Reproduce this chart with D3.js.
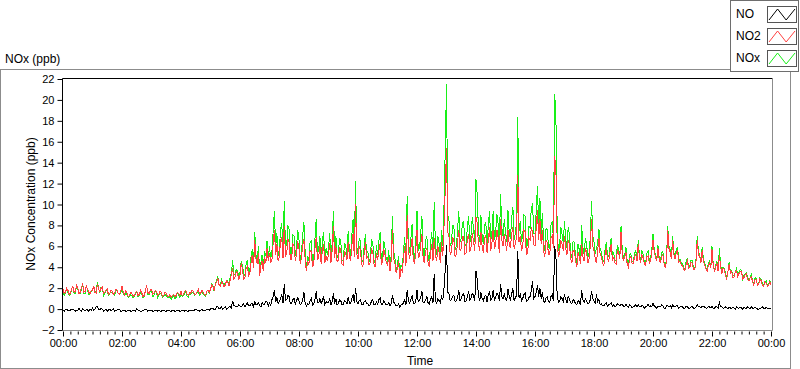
<!DOCTYPE html>
<html><head><meta charset="utf-8">
<script src="https://cdn.jsdelivr.net/npm/d3@7"></script>
<style>
body{margin:0;background:#fff}
svg{display:block}
text{font-family:"Liberation Sans",Arial,sans-serif;fill:#000}
</style>
</head><body>
<svg id="chart" width="800" height="369"></svg>
<script>
// ---- data (2.5-minute samples, 00:00 .. 24:00), one row per hour ----
const seriesNames = ["NO", "NO2", "NOx"];
const seriesColors = ["#000000", "#ff4040", "#18f018"];
const sampleMinutes = 2.5;

const no2 = [
 1.9,1.5,1.6,2.0,1.8,1.4,1.5,1.9,2.2,1.6,1.7,2.3,2.0,1.5,1.6,2.1,2.4,1.6,1.7,2.2,1.9,1.6,1.5,1.8,
 1.8,2.2,1.6,1.5,2.4,1.9,1.7,2.0,2.1,1.5,1.6,1.8,1.9,1.4,1.5,1.8,1.7,1.4,1.5,1.9,1.8,1.5,1.4,1.7,
 2.2,1.6,1.4,1.7,1.6,1.2,1.3,1.6,1.5,1.2,1.3,1.6,1.7,1.3,1.4,1.8,1.6,1.2,1.3,1.7,2.3,1.6,1.5,1.8,
 1.9,1.4,1.5,1.8,1.7,1.3,1.4,1.7,1.6,1.2,1.3,1.6,1.5,1.2,1.2,1.4,1.1,1.3,1.4,1.2,1.3,1.6,1.5,1.3,
 1.7,1.3,1.4,1.7,1.8,1.4,1.3,1.6,1.5,1.8,1.7,1.4,1.4,1.6,1.9,1.5,1.5,1.8,1.6,1.4,1.3,1.7,1.8,1.6,
 1.9,2.3,2.1,1.8,2.4,2.6,2.9,2.3,2.2,2.6,2.5,2.1,2.3,2.7,2.6,2.2,2.8,3.3,3.9,2.9,3.1,3.6,3.4,2.8,
 3.2,4.4,3.8,2.9,3.0,3.9,4.1,3.2,3.4,4.5,5.2,3.9,6.6,4.8,4.3,5.4,3.2,4.2,4.6,3.6,5.0,4.4,5.8,4.6,
 5.4,4.4,4.7,6.3,7.6,5.2,6.2,4.6,5.0,6.6,6.8,4.9,7.9,5.1,5.3,6.7,6.4,4.7,4.8,6.2,6.0,4.6,5.2,6.5,
 5.8,4.3,4.9,6.1,6.7,4.8,3.6,4.6,4.2,5.6,5.5,4.0,4.4,5.8,6.9,4.7,5.0,6.0,4.3,5.6,6.2,4.4,5.1,4.6,
 5.2,6.3,4.4,5.6,7.9,4.9,6.0,4.5,4.7,5.9,5.6,4.3,4.2,5.5,5.3,4.7,6.4,5.0,4.6,6.1,7.2,5.0,10.0,5.3,
 4.8,6.0,5.6,4.3,4.1,5.3,6.4,4.9,5.0,4.2,4.5,5.8,5.5,4.3,4.0,5.4,4.7,5.6,6.3,4.2,4.6,5.7,5.2,4.4,
 4.2,5.0,3.6,4.6,7.6,4.8,4.4,3.5,3.8,4.6,2.9,3.8,3.6,4.9,6.0,4.1,9.0,5.6,4.8,5.8,6.8,4.7,4.3,5.6,
 7.6,4.9,5.0,6.1,7.2,4.8,4.4,5.6,5.8,4.5,4.0,5.3,6.2,4.6,6.8,5.2,4.6,6.0,5.4,4.4,6.4,5.1,8.0,11.6,
 15.4,7.4,7.0,5.2,5.5,6.8,6.6,5.0,5.2,6.4,7.6,5.6,5.8,6.9,6.9,5.3,5.4,6.7,7.2,5.5,6.0,7.3,6.4,5.6,
 8.8,8.2,6.2,5.6,7.4,6.0,5.4,6.8,7.0,5.4,6.6,7.8,5.6,6.4,7.6,5.8,6.2,7.6,6.8,5.4,8.6,6.6,6.0,7.2,
 6.4,5.6,7.6,6.2,5.8,7.2,7.8,5.8,6.2,7.0,12.8,6.4,7.0,5.6,6.0,7.6,7.4,5.2,5.4,6.8,6.6,7.8,7.4,6.2,
 6.0,7.8,9.5,6.6,8.6,6.2,7.6,5.6,5.0,6.6,6.4,5.2,5.2,6.8,7.0,5.8,14.6,13.5,6.6,5.0,5.4,6.6,6.2,5.6,
 7.0,5.8,5.2,6.6,6.2,4.8,4.4,5.6,5.6,4.6,4.0,5.4,5.0,4.3,6.2,5.0,4.6,5.8,5.4,4.4,4.8,6.0,8.6,6.0,
 5.6,4.8,4.4,5.6,6.8,5.2,5.0,4.4,4.2,5.2,5.8,4.8,4.6,5.4,6.2,4.6,5.0,4.4,4.3,5.6,5.4,4.8,7.4,5.2,
 4.6,5.0,5.4,4.3,4.0,4.8,5.0,4.4,4.4,5.0,5.2,4.6,6.2,4.8,4.5,5.2,4.9,4.3,4.2,5.0,5.1,4.4,4.6,5.4,
 6.6,5.4,5.0,4.6,5.8,4.8,4.4,5.0,5.2,4.4,3.9,4.6,7.6,5.8,5.4,4.8,6.6,5.2,4.8,5.4,5.6,4.5,4.6,4.2,
 4.2,3.8,3.7,4.3,4.6,3.9,4.0,4.5,4.4,3.8,3.8,4.6,6.6,5.2,5.0,4.4,5.6,4.6,4.2,3.9,3.6,4.2,4.4,3.9,
 5.7,4.2,3.6,4.0,4.4,3.6,5.2,4.0,3.4,3.9,3.8,3.2,2.9,3.6,4.3,3.4,3.6,3.0,3.1,3.6,3.7,3.1,3.4,3.6,
 3.6,2.9,3.0,3.3,3.4,2.8,2.7,3.0,3.1,2.6,2.3,2.8,2.8,2.3,2.4,2.9,2.7,2.3,2.2,2.6,2.5,2.2,2.3,2.6,
 2.3
];

const no = [
 -0.1,-0.2,0.0,0.0,-0.2,-0.1,-0.1,0.0,0.0,-0.1,-0.2,-0.1,-0.1,0.1,-0.1,-0.2,0.0,-0.1,-0.2,0.0,-0.1,-0.2,0.0,-0.1,
 0.1,-0.1,0.0,0.2,0.2,0.0,-0.1,0.1,0.0,-0.2,-0.1,0.0,-0.2,-0.1,0.0,-0.2,-0.1,0.0,-0.2,-0.1,-0.1,0.0,0.0,-0.2,
 -0.2,-0.1,-0.1,-0.2,-0.2,-0.1,-0.1,-0.2,-0.2,-0.1,-0.1,-0.2,0.0,-0.1,-0.1,-0.2,-0.2,-0.1,-0.1,0.0,0.0,-0.2,-0.1,-0.1,
 -0.1,-0.2,-0.2,-0.1,-0.1,-0.2,-0.1,-0.2,-0.2,-0.1,-0.1,-0.2,-0.2,-0.1,-0.1,-0.2,-0.2,-0.1,-0.1,-0.2,-0.2,-0.1,-0.1,-0.2,
 -0.2,-0.1,-0.1,-0.2,-0.1,-0.2,-0.2,-0.1,-0.1,-0.2,-0.1,-0.1,0.0,-0.1,-0.1,-0.2,-0.1,0.0,-0.2,-0.1,-0.1,0.0,0.0,-0.1,
 0.0,0.1,0.1,-0.1,0.0,0.2,0.2,0.0,0.1,0.2,0.0,0.1,0.2,0.0,0.1,0.2,0.3,0.1,0.8,0.3,0.3,0.2,0.2,0.4,
 0.3,0.2,0.4,0.5,0.2,0.4,0.6,0.3,0.3,0.5,0.5,0.2,0.8,0.4,0.4,0.6,0.3,0.2,0.6,0.4,0.5,0.7,0.7,0.3,
 0.6,0.4,0.9,1.2,1.8,0.7,1.1,0.5,0.7,1.0,1.4,0.6,2.4,0.8,0.9,1.3,1.2,0.5,0.6,0.9,1.0,0.5,0.8,1.1,
 0.8,0.4,0.5,0.9,1.6,0.6,0.3,0.5,0.4,0.8,1.0,0.4,0.5,0.9,1.7,0.6,0.6,1.0,0.5,0.8,1.2,0.4,0.7,0.6,
 0.6,1.0,0.4,0.7,1.5,0.5,1.0,0.4,0.5,0.9,0.8,0.4,0.4,0.8,0.7,0.5,1.1,0.6,0.5,1.0,1.4,0.6,2.0,0.7,
 0.5,0.8,0.9,0.4,0.4,0.7,0.8,0.5,0.5,0.3,0.4,0.8,0.9,0.4,0.4,0.7,0.5,0.9,1.1,0.4,0.5,0.8,0.6,0.4,
 0.4,0.6,0.3,0.5,1.3,0.7,0.5,0.3,0.3,0.5,0.2,0.4,0.4,0.6,0.9,0.4,1.8,0.8,0.6,0.9,1.3,0.6,0.5,0.8,
 1.8,0.7,0.8,1.1,1.7,0.6,0.6,0.9,1.2,0.6,0.5,0.9,1.2,0.6,3.4,0.8,0.6,1.0,0.8,0.6,1.2,0.9,2.0,3.8,
 6.1,1.6,1.5,0.8,0.9,1.2,1.3,0.7,0.8,1.1,1.8,0.8,1.0,1.4,1.5,0.7,0.8,1.2,1.7,0.8,1.1,1.5,1.3,0.8,
 3.6,2.8,1.3,0.8,1.6,1.0,0.8,1.2,1.3,0.7,1.4,1.6,0.9,1.0,1.8,0.8,1.1,1.5,1.3,0.8,2.4,1.2,1.0,1.4,
 1.0,0.8,1.9,1.2,0.9,1.4,2.0,0.8,1.1,1.3,5.6,1.1,1.4,0.8,1.0,1.4,1.5,0.7,0.8,1.1,1.2,1.8,2.7,1.0,
 1.2,1.6,2.3,1.2,2.0,1.0,1.6,0.8,0.6,1.1,1.2,0.7,0.6,1.2,1.4,0.8,6.0,5.1,1.4,0.6,0.7,1.2,1.0,0.7,
 1.4,0.9,0.6,1.2,1.0,0.6,0.5,0.9,0.8,0.5,0.4,0.8,0.7,0.4,1.8,0.9,0.6,1.0,0.8,0.5,0.6,0.9,1.7,1.0,
 0.8,0.5,1.4,0.7,0.9,0.4,0.5,0.3,0.3,0.5,0.6,0.3,0.4,0.5,0.6,0.3,0.4,0.2,0.3,0.5,0.4,0.3,0.5,0.4,
 0.3,0.2,0.5,0.3,0.2,0.4,0.3,0.1,0.2,0.3,0.4,0.2,0.4,0.2,0.2,0.4,0.3,0.1,0.2,0.3,0.5,0.2,0.3,0.2,
 0.6,0.3,0.2,0.1,0.3,0.2,0.2,0.4,0.3,0.1,0.1,0.3,0.3,0.2,0.3,0.1,0.4,0.2,0.2,0.3,0.3,0.1,0.2,0.2,
 0.2,0.1,0.1,0.3,0.2,0.1,0.1,0.2,0.2,0.1,0.1,0.2,0.4,0.2,0.2,0.1,0.3,0.2,0.2,0.1,0.1,0.2,0.2,0.1,
 0.3,0.1,0.1,0.2,0.2,0.1,0.6,0.2,0.2,0.1,0.1,0.2,0.1,0.0,0.2,0.1,0.1,0.2,0.1,0.0,0.2,0.1,0.1,0.2,
 0.1,0.0,0.2,0.1,0.1,0.2,0.1,0.0,0.2,0.1,0.1,0.2,0.1,0.0,0.0,0.1,0.1,0.2,0.1,0.0,0.2,0.1,0.1,0.1,
 0.1
];

const nox = [
 1.8,1.3,1.6,2.0,1.6,1.3,1.4,1.9,2.2,1.5,1.5,2.2,1.9,1.6,1.5,1.9,2.4,1.5,1.5,2.2,1.8,1.4,1.5,1.7,
 1.9,2.1,1.6,1.7,2.6,1.9,1.6,2.1,2.1,1.3,1.5,1.8,1.7,1.3,1.5,1.6,1.6,1.4,1.3,1.8,1.7,1.5,1.4,1.5,
 2.0,1.5,1.3,1.5,1.4,1.1,1.2,1.4,1.3,1.1,1.2,1.4,1.7,1.2,1.3,1.6,1.4,1.1,1.2,1.7,2.3,1.4,1.4,1.7,
 1.8,1.2,1.3,1.7,1.6,1.1,1.3,1.5,1.4,1.1,1.2,1.4,1.3,1.1,1.1,1.2,0.9,1.2,1.3,1.0,1.1,1.5,1.4,1.1,
 1.5,1.2,1.3,1.5,1.7,1.2,1.1,1.5,1.4,1.6,1.6,1.3,1.4,1.5,1.8,1.3,1.4,1.8,1.4,1.3,1.2,1.7,1.8,1.5,
 1.9,2.4,2.2,1.7,2.4,2.8,3.1,2.3,2.3,2.8,2.5,2.2,2.5,2.7,2.7,2.4,3.1,3.4,4.7,3.2,3.4,3.8,3.6,3.2,
 3.5,4.6,4.2,3.4,3.2,4.3,4.7,3.5,3.7,5.0,5.7,4.1,7.4,5.2,4.7,6.0,3.5,4.4,5.2,4.0,5.5,5.1,6.5,4.9,
 6.0,4.8,5.6,7.5,9.4,5.9,7.3,5.1,5.7,7.6,8.2,5.5,10.3,5.9,6.2,8.0,7.6,5.2,5.4,7.1,7.0,5.1,6.0,7.6,
 6.6,4.7,5.4,7.0,8.3,5.4,3.9,5.1,4.6,6.4,6.5,4.4,4.9,6.7,8.6,5.3,5.6,7.0,4.8,6.4,7.4,4.8,5.8,5.2,
 5.8,7.3,4.8,6.3,9.4,5.4,7.0,4.9,5.2,6.8,6.4,4.7,4.6,6.3,6.0,5.2,7.5,5.6,5.1,7.1,8.6,5.6,12.2,6.0,
 5.3,6.8,6.5,4.7,4.5,6.0,7.2,5.4,5.5,4.5,4.9,6.6,6.4,4.7,4.4,6.1,5.2,6.5,7.4,4.6,5.1,6.5,5.8,4.8,
 4.6,5.6,3.9,5.1,8.9,5.5,4.9,3.8,4.1,5.1,3.1,4.2,4.0,5.5,6.9,4.5,10.8,6.4,5.4,6.7,8.1,5.3,4.8,6.4,
 9.4,5.6,5.8,7.2,8.9,5.4,5.0,6.5,7.0,5.1,4.5,6.2,7.4,5.2,10.2,6.0,5.2,7.0,6.2,5.0,7.6,6.0,10.0,15.4,
 21.5,9.0,8.5,6.0,6.4,8.0,7.9,5.7,6.0,7.5,9.4,6.4,6.8,8.3,8.4,6.0,6.2,7.9,8.9,6.3,7.1,8.8,7.7,6.4,
 12.4,11.0,7.5,6.4,9.0,7.0,6.2,8.0,8.3,6.1,8.0,9.4,6.5,7.4,9.4,6.6,7.3,9.1,8.1,6.2,11.0,7.8,7.0,8.6,
 7.4,6.4,9.5,7.4,6.7,8.6,9.8,6.6,7.3,8.3,18.4,7.5,8.4,6.4,7.0,9.0,8.9,5.9,6.2,7.9,7.8,9.6,10.1,7.2,
 7.2,9.4,11.8,7.8,10.6,7.2,9.2,6.4,5.6,7.7,7.6,5.9,5.8,8.0,8.4,6.6,20.6,18.6,8.0,5.6,6.1,7.8,7.2,6.3,
 8.4,6.7,5.8,7.8,7.2,5.4,4.9,6.5,6.4,5.1,4.4,6.2,5.7,4.7,8.0,5.9,5.2,6.8,6.2,4.9,5.4,6.9,10.3,7.0,
 6.4,5.3,5.8,6.3,7.7,5.6,5.5,4.7,4.5,5.7,6.4,5.1,5.0,5.9,6.8,4.9,5.4,4.6,4.6,6.1,5.8,5.1,7.9,5.6,
 4.9,5.2,5.9,4.6,4.2,5.2,5.3,4.5,4.6,5.3,5.6,4.8,6.6,5.0,4.7,5.6,5.2,4.4,4.4,5.3,5.6,4.6,4.9,5.6,
 7.2,5.7,5.2,4.7,6.1,5.0,4.6,5.4,5.5,4.5,4.0,4.9,7.9,6.0,5.7,4.9,7.0,5.4,5.0,5.7,5.9,4.6,4.8,4.4,
 4.4,3.9,3.8,4.6,4.8,4.0,4.1,4.7,4.6,3.9,3.9,4.8,7.0,5.4,5.2,4.5,5.9,4.8,4.4,4.0,3.7,4.4,4.6,4.0,
 6.0,4.3,3.7,4.2,4.6,3.7,5.8,4.2,3.6,4.0,3.9,3.4,3.0,3.6,4.5,3.5,3.7,3.2,3.2,3.6,3.9,3.2,3.5,3.8,
 3.7,2.9,3.2,3.4,3.5,3.0,2.8,3.0,3.3,2.7,2.4,3.0,2.9,2.3,2.4,3.0,2.8,2.5,2.3,2.6,2.7,2.3,2.4,2.7,
 2.4
];

const xTickHours  = [0,2,4,6,8,10,12,14,16,18,20,22,24];
const xTickLabels = ["00:00","02:00","04:00","06:00","08:00","10:00","12:00","14:00","16:00","18:00","20:00","22:00","00:00"];
const xMinorStepHours = 0.25;
const yTicks = [-2,0,2,4,6,8,10,12,14,16,18,20,22];

// ---- drawing ----
const svg = d3.select("#chart");
const L = 62.5, R = 771.5, T = 78.5, B = 330.5;

const x = d3.scaleLinear().domain([0, 24]).range([63, 771]);
const y = d3.scaleLinear().domain([-2, 22]).range([330, 79]);

// outer panel frame
svg.append("rect").attr("x",0.5).attr("y",69.5).attr("width",790).attr("height",299)
  .attr("fill","#fff").attr("stroke","#8c8c8c");

svg.append("text").attr("x",5).attr("y",63).style("font-size","12px").text("NOx (ppb)");

svg.append("rect").attr("x",L).attr("y",T).attr("width",R-L+1).attr("height",B-T).attr("fill","#fff");

const toPts = arr => arr.map((v,i) => [i*sampleMinutes/60, v]);
const line = d3.line().x(d => x(d[0])).y(d => y(d[1]));

const g = svg.append("g");
[[nox,2],[no2,1],[no,0]].forEach(([arr,ci]) => {
  g.append("path").datum(toPts(arr)).attr("d", line).attr("fill","none")
    .attr("stroke", seriesColors[ci]).attr("stroke-width",1).attr("shape-rendering","crispEdges");
});

// frame lines
svg.append("line").attr("x1",L).attr("x2",R+1).attr("y1",T).attr("y2",T).attr("stroke","#000");
svg.append("line").attr("x1",L).attr("x2",L).attr("y1",T).attr("y2",B).attr("stroke","#000");
svg.append("line").attr("x1",R+1).attr("x2",R+1).attr("y1",T).attr("y2",B).attr("stroke","#8c8c8c");
svg.append("line").attr("x1",L).attr("x2",R+1).attr("y1",B).attr("y2",B).attr("stroke","#8c8c8c");

// y axis
const yAxis = svg.append("g").attr("transform",`translate(${L},0)`)
  .call(d3.axisLeft(y).tickValues(yTicks).tickSize(5).tickPadding(3).tickFormat(d3.format("d")));
yAxis.select(".domain").remove();
yAxis.selectAll("text").style("font-size","11px").attr("fill","#000");
yAxis.selectAll("line").attr("stroke","#000");

// x axis minor ticks
const minor = d3.range(0, 24 + 1e-9, xMinorStepHours).filter(h => Math.abs(h/2 - Math.round(h/2)) > 1e-6);
const xMinor = svg.append("g").attr("transform",`translate(0,${B+1})`)
  .call(d3.axisBottom(x).tickValues(minor).tickSize(3).tickFormat(""));
xMinor.select(".domain").remove();
xMinor.selectAll("line").attr("stroke","#000");

const xAxis = svg.append("g").attr("transform",`translate(0,${B+1})`)
  .call(d3.axisBottom(x).tickValues(xTickHours).tickSize(5).tickPadding(3)
    .tickFormat((d,i) => xTickLabels[i]));
xAxis.select(".domain").remove();
xAxis.selectAll("text").style("font-size","11px").attr("fill","#000");
xAxis.selectAll("line").attr("stroke","#000");

svg.append("text").attr("x",420).attr("y",365).attr("text-anchor","middle")
  .style("font-size","12px").text("Time");

svg.append("text").attr("transform","translate(35,204) rotate(-90)").attr("text-anchor","middle")
  .style("font-size","12px").text("NOx Concentration (ppb)");

// legend
const lg = svg.append("g");
lg.append("rect").attr("x",730.5).attr("y",0.5).attr("width",68).attr("height",71)
  .attr("fill","#fff").attr("stroke","#6e6e6e");
const legendY = [6, 28, 50];
seriesNames.forEach((name, i) => {
  const top = legendY[i];
  lg.append("text").attr("x",736).attr("y",top+12).style("font-size","12px").text(name);
  lg.append("rect").attr("x",767.5).attr("y",top+0.5).attr("width",29).attr("height",16)
    .attr("fill","#fff").attr("stroke","#555");
  const zx = 769, zw = 26, zt = top+3, zb = top+14;
  lg.append("polyline")
    .attr("points", `${zx},${zb} ${zx+zw*0.33},${zt} ${zx+zw*0.66},${zb} ${zx+zw},${zt}`)
    .attr("fill","none").attr("stroke",seriesColors[i]).attr("stroke-width",1);
});
</script>
</body></html>
